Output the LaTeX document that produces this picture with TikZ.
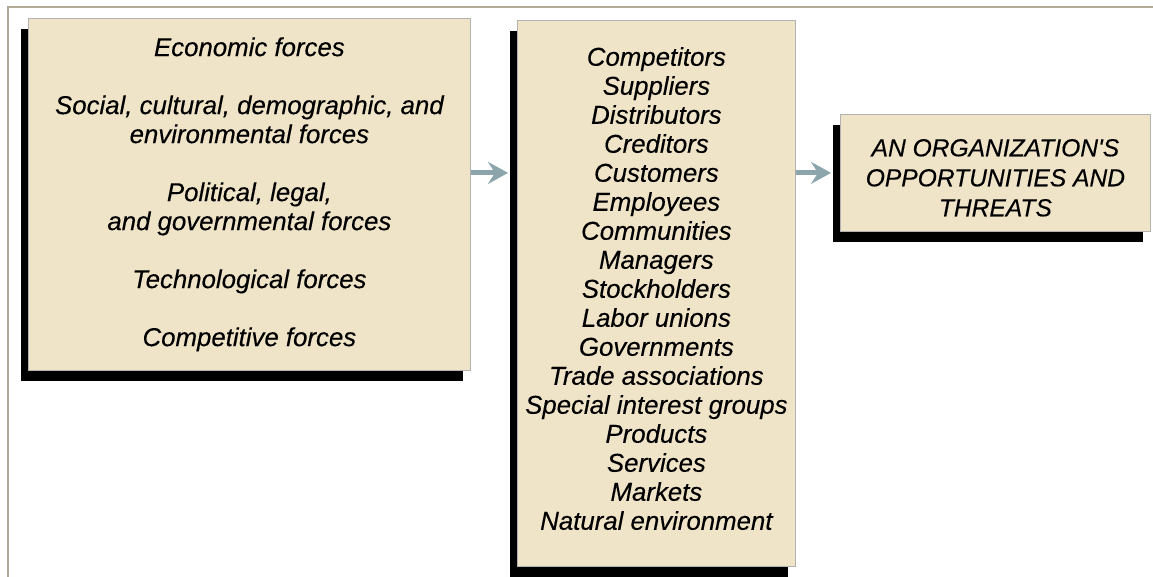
\documentclass[tikz,border=0pt]{standalone}
\usepackage{fontspec}
\setmainfont{Liberation Sans}
\usetikzlibrary{shadows,arrows.meta}
\definecolor{boxfill}{RGB}{240,228,200}
\definecolor{pfeil}{RGB}{140,165,172}
\definecolor{rahmen}{RGB}{176,170,150}
\begin{document}
\begin{tikzpicture}[x=1pt, y=-1pt, line width=1pt,
	forcebox/.style={draw=gray!60, line width=0.8pt, fill=boxfill, anchor=north west, inner sep=0pt, align=center,
		font=\itshape\addfontfeatures{FakeBold=0.3}\fontsize{25.8}{29}\selectfont,
		drop shadow={shadow xshift=-7pt, shadow yshift=-11pt, fill=black, opacity=1, draw=none}},
	flow/.style={pfeil, line width=5pt, -{Stealth[length=20pt, width=22pt, inset=7pt]}, shorten >=9pt}]
		\useasboundingbox (0,0) rectangle (1153,577);
		% Rahmen
		\draw[rahmen, line width=2pt] (8,577) -- (8,7) -- (1153,7);
		% Umwelt
		\node[forcebox, minimum width=442pt, minimum height=352pt] (umwelt) at (28,18) {
			Economic forces\\[29pt]
			Social, cultural, demographic, and\\ environmental forces\\[29pt]
			Political, legal,\\ and governmental forces\\[29pt]
			Technological forces\\[29pt]
			Competitive forces};
		% Gruppen
		\node[forcebox, minimum width=278pt, minimum height=546pt] (gruppen) at (517,20) {
			Competitors\\ Suppliers\\ Distributors\\ Creditors\\ Customers\\ Employees\\
			Communities\\ Managers\\ Stockholders\\ Labor unions\\ Governments\\
			Trade associations\\ Special interest groups\\ Products\\ Services\\
			Markets\\ Natural environment\rule[-10pt]{0pt}{0pt}};
		% Ergebnis
		\node[forcebox, minimum width=310pt, minimum height=117pt,
			font=\itshape\addfontfeatures{FakeBold=0.3}\fontsize{24.6}{30}\selectfont] (ziel) at (840,114) {
			\rule{0pt}{27pt}AN ORGANIZATION\textquotesingle S\\ OPPORTUNITIES AND\\ THREATS};
		% Pfeile
		\draw[flow] (umwelt.east |- ziel.west) -- (gruppen.west |- ziel.west);
		\draw[flow] (gruppen.east |- ziel.west) -- (ziel.west);
	\end{tikzpicture}
\end{document}
